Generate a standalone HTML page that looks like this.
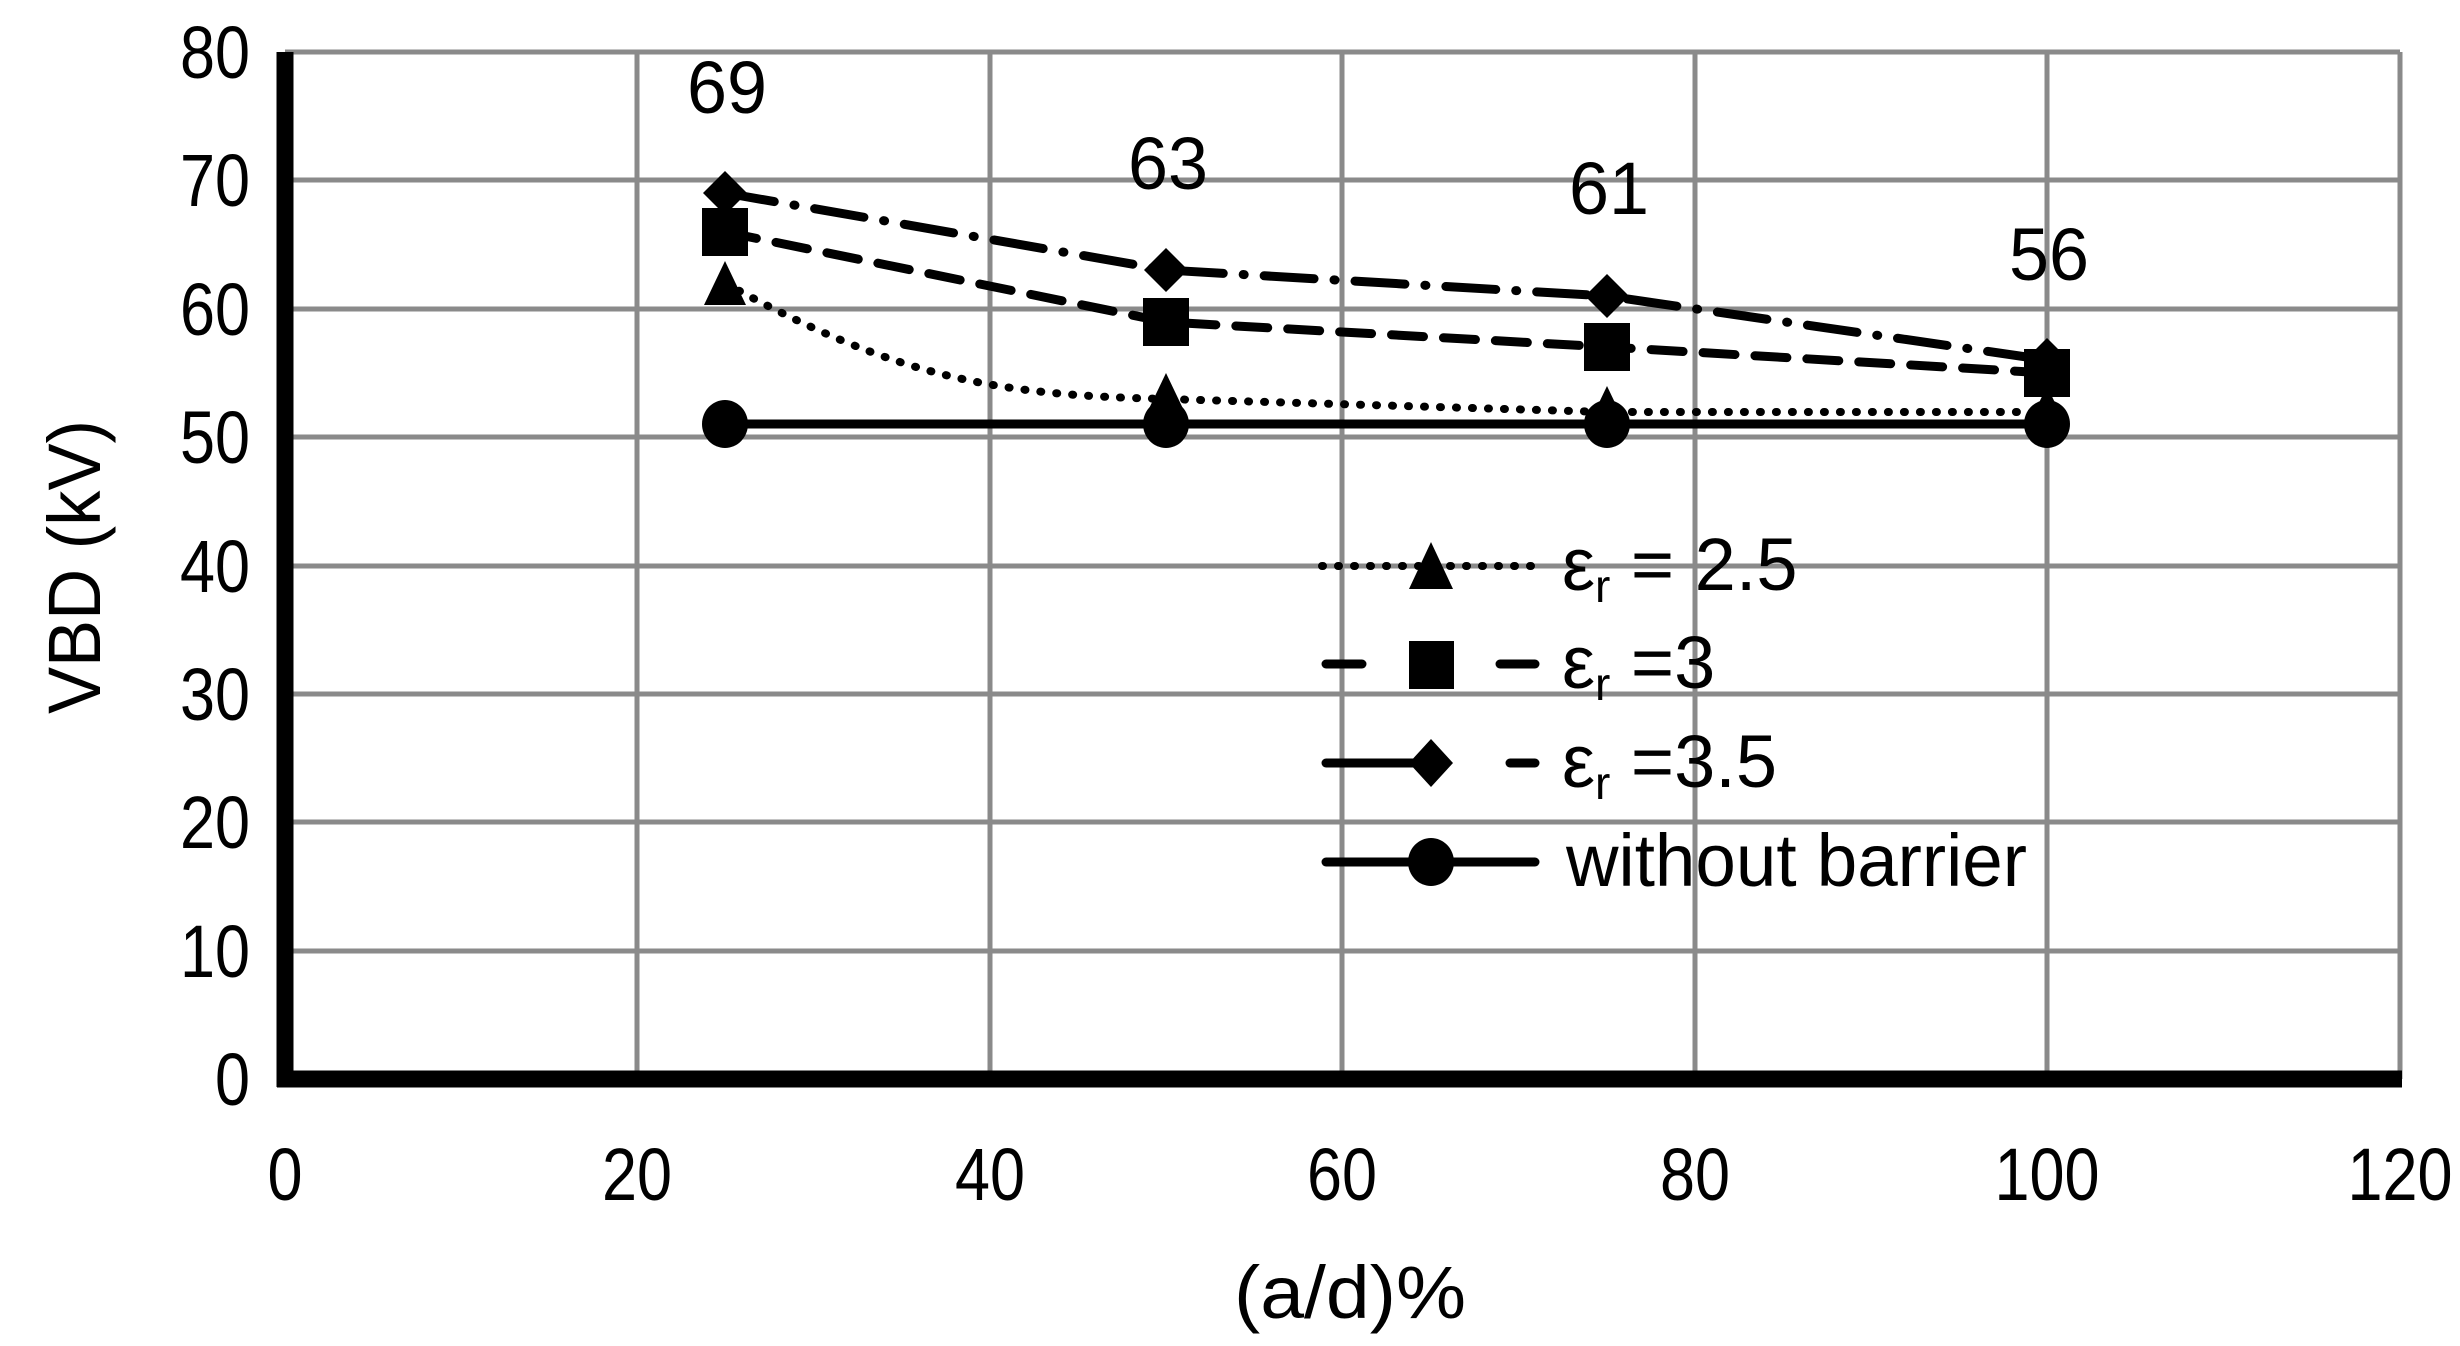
<!DOCTYPE html>
<html><head><meta charset="utf-8"><style>
html,body{margin:0;padding:0;background:#fff;}
svg{display:block;}
text{font-family:"Liberation Sans",sans-serif;fill:#000;}
</style></head><body>
<svg width="2460" height="1346" viewBox="0 0 2460 1346" xmlns="http://www.w3.org/2000/svg">
<g stroke="#8a8a8a" stroke-width="5">
<line x1="285" y1="52" x2="2400" y2="52"/>
<line x1="285" y1="180" x2="2400" y2="180"/>
<line x1="285" y1="309" x2="2400" y2="309"/>
<line x1="285" y1="437" x2="2400" y2="437"/>
<line x1="285" y1="566" x2="2400" y2="566"/>
<line x1="285" y1="694" x2="2400" y2="694"/>
<line x1="285" y1="822" x2="2400" y2="822"/>
<line x1="285" y1="951" x2="2400" y2="951"/>
<line x1="637" y1="52" x2="637" y2="1079"/>
<line x1="990" y1="52" x2="990" y2="1079"/>
<line x1="1342" y1="52" x2="1342" y2="1079"/>
<line x1="1695" y1="52" x2="1695" y2="1079"/>
<line x1="2047" y1="52" x2="2047" y2="1079"/>
<line x1="2400" y1="52" x2="2400" y2="1079"/>
</g>
<line x1="285" y1="52" x2="285" y2="1087" stroke="#000" stroke-width="17"/>
<line x1="277" y1="1079" x2="2402" y2="1079" stroke="#000" stroke-width="17"/>
<g font-size="74" text-anchor="end" lengthAdjust="spacingAndGlyphs">
<text x="250" y="78" textLength="70" lengthAdjust="spacingAndGlyphs">80</text>
<text x="250" y="206" textLength="70" lengthAdjust="spacingAndGlyphs">70</text>
<text x="250" y="335" textLength="70" lengthAdjust="spacingAndGlyphs">60</text>
<text x="250" y="463" textLength="70" lengthAdjust="spacingAndGlyphs">50</text>
<text x="250" y="592" textLength="70" lengthAdjust="spacingAndGlyphs">40</text>
<text x="250" y="720" textLength="70" lengthAdjust="spacingAndGlyphs">30</text>
<text x="250" y="848" textLength="70" lengthAdjust="spacingAndGlyphs">20</text>
<text x="250" y="977" textLength="70" lengthAdjust="spacingAndGlyphs">10</text>
<text x="250" y="1105" textLength="35" lengthAdjust="spacingAndGlyphs">0</text>
</g>
<g font-size="74" text-anchor="middle">
<text x="285" y="1200" textLength="35" lengthAdjust="spacingAndGlyphs">0</text>
<text x="637" y="1200" textLength="70" lengthAdjust="spacingAndGlyphs">20</text>
<text x="990" y="1200" textLength="70" lengthAdjust="spacingAndGlyphs">40</text>
<text x="1342" y="1200" textLength="70" lengthAdjust="spacingAndGlyphs">60</text>
<text x="1695" y="1200" textLength="70" lengthAdjust="spacingAndGlyphs">80</text>
<text x="2047" y="1200" textLength="105" lengthAdjust="spacingAndGlyphs">100</text>
<text x="2400" y="1200" textLength="105" lengthAdjust="spacingAndGlyphs">120</text>
<text x="1350" y="1318" textLength="232" lengthAdjust="spacingAndGlyphs">(a/d)%</text>
<text transform="translate(100,567) rotate(-90)" textLength="294" lengthAdjust="spacingAndGlyphs">VBD (kV)</text>
<text x="727" y="113" textLength="80" lengthAdjust="spacingAndGlyphs">69</text>
<text x="1168" y="189" textLength="80" lengthAdjust="spacingAndGlyphs">63</text>
<text x="1609" y="214" textLength="80" lengthAdjust="spacingAndGlyphs">61</text>
<text x="2049" y="280" textLength="80" lengthAdjust="spacingAndGlyphs">56</text>
</g>
<!-- series -->
<path d="M725,283 C900,380 1000,395 1166,399 L1607,412 L2047,412" fill="none" stroke="#000" stroke-width="8" stroke-dasharray="1,15" stroke-linecap="round"/>
<polyline points="725,232 1166,322 1607,347 2047,373" fill="none" stroke="#000" stroke-width="9" stroke-dasharray="32,20" stroke-linecap="round"/>
<polyline points="725,193 1166,270 1607,296 2047,360" fill="none" stroke="#000" stroke-width="9" stroke-dasharray="50,20,1,20" stroke-linecap="round"/>
<line x1="725" y1="424" x2="2047" y2="424" stroke="#000" stroke-width="9"/>
<g fill="#000">
<polygon points="725,261 746,305 704,305"/><polygon points="1166,373 1187,417 1145,417"/>
<polygon points="1607,386 1628,430 1586,430"/><polygon points="2047,386 2068,430 2026,430"/>
<rect x="702" y="208" width="46" height="48"/><rect x="1143" y="298" width="46" height="48"/>
<rect x="1584" y="323" width="46" height="48"/><rect x="2024" y="349" width="46" height="48"/>
<polygon points="725,171 747,193 725,215 703,193"/><polygon points="1166,248 1188,270 1166,292 1144,270"/>
<polygon points="1607,274 1629,296 1607,318 1585,296"/><polygon points="2047,338 2069,360 2047,382 2025,360"/>
<ellipse cx="725" cy="424" rx="23" ry="24"/><ellipse cx="1166" cy="424" rx="23" ry="24"/>
<ellipse cx="1607" cy="424" rx="23" ry="24"/><ellipse cx="2047" cy="424" rx="23" ry="24"/>
</g>
<!-- legend -->
<line x1="1322" y1="566" x2="1535" y2="566" stroke="#000" stroke-width="8" stroke-dasharray="1,15" stroke-linecap="round"/>
<polygon points="1431,542 1453,589 1409,589" fill="#000"/>
<line x1="1326" y1="664" x2="1362" y2="664" stroke="#000" stroke-width="9" stroke-linecap="round"/>
<line x1="1500" y1="664" x2="1535" y2="664" stroke="#000" stroke-width="9" stroke-linecap="round"/>
<rect x="1409" y="641" width="45" height="48" fill="#000"/>
<line x1="1326" y1="763" x2="1420" y2="763" stroke="#000" stroke-width="9" stroke-linecap="round"/>
<line x1="1510" y1="763" x2="1535" y2="763" stroke="#000" stroke-width="9" stroke-linecap="round"/>
<polygon points="1431,739 1453,763 1431,787 1409,763" fill="#000"/>
<line x1="1326" y1="862" x2="1535" y2="862" stroke="#000" stroke-width="9" stroke-linecap="round"/>
<ellipse cx="1431" cy="862" rx="23" ry="24" fill="#000"/>
<g font-size="74">
<text x="1562" y="590">ε<tspan font-size="46" dy="12">r</tspan><tspan dy="-12"> = 2.5</tspan></text>
<text x="1562" y="688">ε<tspan font-size="46" dy="12">r</tspan><tspan dy="-12"> =3</tspan></text>
<text x="1562" y="787">ε<tspan font-size="46" dy="12">r</tspan><tspan dy="-12"> =3.5</tspan></text>
<text x="1566" y="886" textLength="461" lengthAdjust="spacingAndGlyphs">without barrier</text>
</g>
</svg>
</body></html>
